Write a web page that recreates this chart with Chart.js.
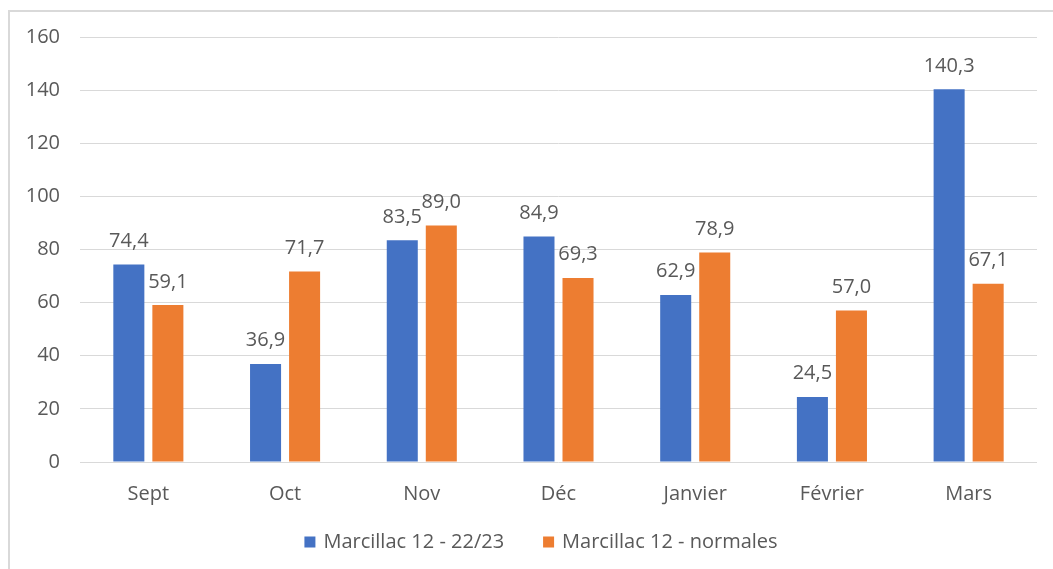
<!DOCTYPE html>
<html>
<head>
<meta charset="utf-8">
<script src="https://cdn.jsdelivr.net/npm/chart.js@4/dist/chart.umd.min.js"></script>
<style>
  html, body { margin: 0; padding: 0; background: #fff; overflow: hidden; }
  #frame { position: absolute; left: 8px; top: 10px; width: 2000px; height: 2000px; border: 2px solid #d9d9d9; box-sizing: border-box; }
  #wrap { position: absolute; left: 0; top: 0; width: 1053px; height: 569px; }
</style>
</head>
<body>
<div id="frame"></div>
<div id="wrap"><canvas id="c" width="1053" height="569"></canvas></div>
<script>
const categories = ['Sept', 'Oct', 'Nov', 'Déc', 'Janvier', 'Février', 'Mars'];
const seriesNames = ['Marcillac 12 - 22/23', 'Marcillac 12 - normales'];
const values2223 = [74.4, 36.9, 83.5, 84.9, 62.9, 24.5, 140.3];
const valuesNormales = [59.1, 71.7, 89.0, 69.3, 78.9, 57.0, 67.1];
const yTicks = [0, 20, 40, 60, 80, 100, 120, 140, 160];

const FONT = '"Open Sans", sans-serif';
const TEXT = '#595959';

const dataLabels = {
  id: 'dataLabels',
  afterDatasetsDraw(chart) {
    const ctx = chart.ctx;
    ctx.save();
    ctx.font = '20px ' + FONT;
    ctx.fillStyle = TEXT;
    ctx.textAlign = 'center';
    ctx.textBaseline = 'alphabetic';
    chart.data.datasets.forEach((ds, di) => {
      const meta = chart.getDatasetMeta(di);
      meta.data.forEach((el, i) => {
        const txt = ds.data[i].toFixed(1).replace('.', ',');
        ctx.fillText(txt, el.x, el.y - 17.5);
      });
    });
    ctx.restore();
  }
};

const customLegend = {
  id: 'customLegend',
  afterDraw(chart) {
    const ctx = chart.ctx;
    ctx.save();
    ctx.font = '20px ' + FONT;
    ctx.textBaseline = 'middle';
    ctx.textAlign = 'left';
    const box = 11, gap = 8, between = 39;
    const items = chart.data.datasets.map(ds => ({ label: ds.label, color: ds.backgroundColor, w: ctx.measureText(ds.label).width }));
    let total = 0;
    items.forEach((it, i) => { total += box + gap + it.w + (i ? between : 0); });
    let x = 541 - total / 2;
    const y = 542;
    items.forEach(it => {
      ctx.fillStyle = it.color;
      ctx.fillRect(x, y - box / 2, box, box);
      ctx.fillStyle = TEXT;
      ctx.fillText(it.label, x + box + gap, y);
      x += box + gap + it.w + between;
    });
    ctx.restore();
  }
};

new Chart(document.getElementById('c'), {
  type: 'bar',
  data: {
    labels: categories,
    datasets: [
      { label: seriesNames[0], data: values2223, backgroundColor: '#4472C4', categoryPercentage: 0.571, barPercentage: 0.795 },
      { label: seriesNames[1], data: valuesNormales, backgroundColor: '#ED7D31', categoryPercentage: 0.571, barPercentage: 0.795 }
    ]
  },
  options: {
    responsive: false,
    animation: false,
    events: [],
    layout: { padding: { top: 37, right: 16, left: 0, bottom: 0 } },
    plugins: { legend: { display: false }, tooltip: { enabled: false } },
    scales: {
      x: {
        grid: { display: false, drawTicks: false },
        border: { display: false },
        ticks: { color: TEXT, font: { family: FONT, size: 20 }, padding: 20, maxRotation: 0 },
        afterFit(axis) { axis.height = 107; }
      },
      y: {
        min: 0, max: 160,
        afterBuildTicks(axis) { axis.ticks = yTicks.map(v => ({ value: v })); },
        grid: { color: '#d9d9d9', lineWidth: 1, drawTicks: false },
        border: { display: false },
        ticks: { color: TEXT, font: { family: FONT, size: 20 }, padding: 20 },
        afterFit(axis) { axis.width = 80; }
      }
    }
  },
  plugins: [dataLabels, customLegend]
});
</script>
</body>
</html>
